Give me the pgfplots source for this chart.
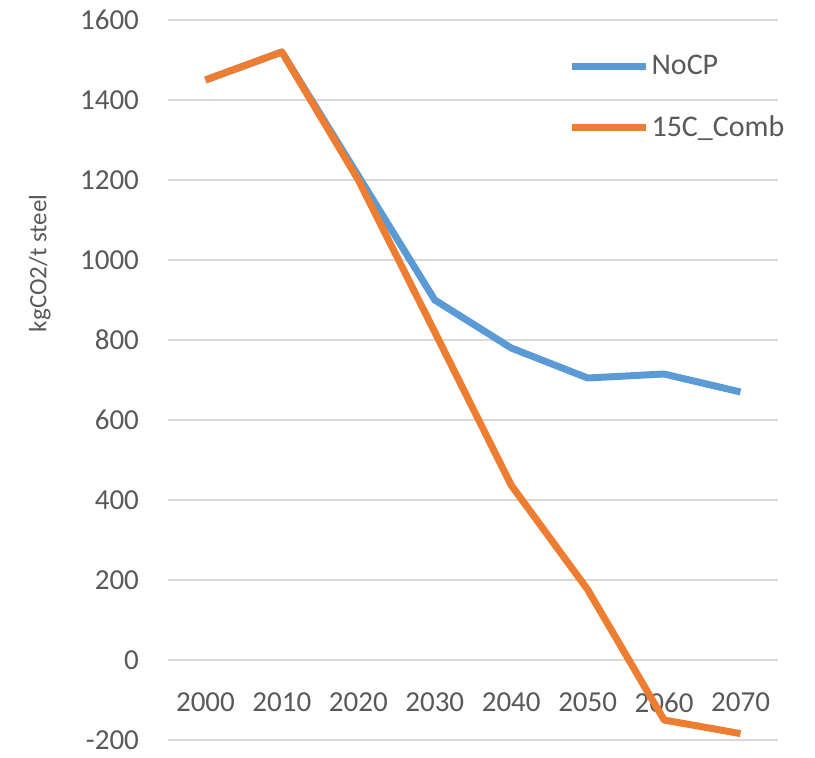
\documentclass[border=0pt]{standalone}
\usepackage{fontspec}
\setmainfont{Carlito}
\usepackage{pgfplots}
\pgfplotsset{compat=1.18}
\definecolor{cblue}{HTML}{5B9BD5}
\definecolor{corange}{HTML}{ED7D31}
\definecolor{cgrid}{HTML}{D9D9D9}
\definecolor{ctext}{HTML}{595959}
\begin{document}
\begin{tikzpicture}
\path[use as bounding box] (0,0) rectangle (407.5pt,378.5pt);
\begin{axis}[
  at={(84pt,8.5pt)}, anchor=south west,
  scale only axis, width=305pt, height=360pt,
  xmin=-0.49, xmax=7.49, ymin=-200, ymax=1600,
  ytick={-200,0,...,1600},
  xtick={0,...,7},
  xticklabels={2000,2010,2020,2030,2040,2050,2060,2070},
  /pgf/number format/assume math mode=true,
  /pgf/number format/1000 sep={},
  ticklabel style={font=\fontsize{14.5pt}{16pt}\selectfont, text=ctext},
  axis x line*=middle,
  axis y line*=left,
  x axis line style={draw=none},
  y axis line style={draw=none},
  major tick length=0pt,
  ymajorgrids, grid style={cgrid, line width=0.9pt},
  xticklabel style={yshift=-13pt},
  yticklabel style={xshift=-11pt, inner ysep=0pt},
  ylabel={kgCO2/t steel},
  ylabel style={at={(axis description cs:-0.21,0.662)}, anchor=center, rotate=0, text=ctext, font=\fontsize{12.5pt}{14pt}\selectfont},
  legend style={draw=none, fill=none, at={(0.656,0.957)}, anchor=north west, inner sep=0pt,
     row sep=15pt, nodes={inner xsep=1pt, text=ctext}, font=\fontsize{15pt}{17pt}\selectfont},
  legend cell align=left,
  legend image code/.code={\draw[#1] (0pt,0pt) -- (37pt,0pt);},
  every axis plot/.append style={line width=3.5pt, line join=round},
  clip=false,
]
\addplot[cblue] coordinates {(0,1450) (1,1520) (2,1210) (3,900) (4,780) (5,705) (6,715) (7,670)};
\addlegendentry{NoCP}
\addplot[corange] coordinates {(0,1450) (1,1520) (2,1200) (3,820) (4,437) (5,176) (6,-150) (7,-184)};
\addlegendentry{15C\_Comb}
\end{axis}
\end{tikzpicture}
\end{document}
